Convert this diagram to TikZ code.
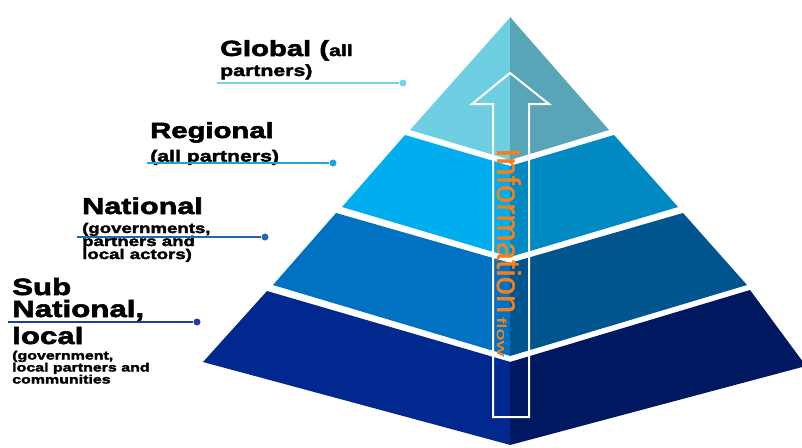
\documentclass[tikz,border=0pt]{standalone}
\usepackage{fontspec}
\setmainfont{Liberation Sans}
\newfontfamily\lblfont{Liberation Sans}[UprightFont={* Bold}, FakeStretch=1.33, FakeBold=2.5]
\newfontfamily\infofont{Liberation Sans}[FakeBold=1.2]
\newcommand\FSz[1]{\fontsize{#1}{#1}\selectfont}
\definecolor{gL}{RGB}{110,207,226}
\definecolor{gR}{RGB}{88,165,183}
\definecolor{rL}{RGB}{0,173,238}
\definecolor{rR}{RGB}{0,138,193}
\definecolor{nL}{RGB}{0,114,193}
\definecolor{nR}{RGB}{0,85,143}
\definecolor{sL}{RGB}{0,40,142}
\definecolor{sR}{RGB}{0,24,96}
\definecolor{flowc}{RGB}{243,128,31}
\definecolor{lnG}{RGB}{124,207,230}
\definecolor{lnR}{RGB}{31,162,221}
\definecolor{lnN}{RGB}{33,102,176}
\definecolor{lnS}{RGB}{32,62,149}
\begin{document}
\begin{tikzpicture}[x=1pt,y=-1pt,
  lbl/.style={anchor=base west, inner sep=0, text=black},
  dotm/.style={circle, fill=#1, inner sep=0, minimum size=7pt},
  leader/.style={draw=#1, line width=1.2pt}]
\path[use as bounding box] (0,0) rectangle (802,447);
\begin{scope}
\clip (0,0) rectangle (802,447);
% Global
\fill[gL] (510.5,17) -- (410,130) -- (510.5,160) -- cycle;
\fill[gR] (510,17) -- (609,130) -- (510,160) -- cycle;
% Regional
\fill[rL] (405,135) -- (510.5,166) -- (510.5,257) -- (342,207) -- cycle;
\fill[rR] (614,135) -- (510,166) -- (510,257) -- (678,207) -- cycle;
% National
\fill[nL] (336,213) -- (510.5,263) -- (510.5,356) -- (273,285) -- cycle;
\fill[nR] (683,213) -- (510,263) -- (510,356) -- (747,285) -- cycle;
% Sub national
\fill[sL] (267,291) -- (510.5,362) -- (510.5,445) -- (203,362) -- cycle;
\fill[sR] (750,290) -- (510,362) -- (510,445) -- (806,366) -- cycle;
\end{scope}
% arrow outline
\draw[white, line width=2pt, line join=miter] (510,73) -- (549,104) -- (529,104) -- (529,417) -- (493,417) -- (493,104) -- (472,104) -- cycle;
% Information flow
\node[rotate=-90, anchor=base west, inner sep=0, text=flowc, font=\infofont\FSz{33}] (info) at (497,148)
  {Information\hspace{4pt}\scalebox{1.7}[1]{\FSz{13}flow}};
% Labels
\node[lbl, font=\lblfont\FSz{22}] (glob1) at (220,56) {Global (\FSz{16}all};
\node[lbl, font=\lblfont\FSz{16}] (glob2) at (220,76) {partners)};
\node[lbl, font=\lblfont\FSz{22}] (reg1) at (150,138) {Regional};
\node[lbl, font=\lblfont\FSz{16}] (reg2) at (150,161.5) {(all partners)};
\node[lbl, font=\lblfont\FSz{23}] (nat1) at (82,214) {National};
\node[lbl, font=\lblfont\FSz{14}] (nat2) at (82,233) {(governments,};
\node[lbl, font=\lblfont\FSz{14}] (nat3) at (82,246) {partners and};
\node[lbl, font=\lblfont\FSz{14}] (nat4) at (82,259) {local actors)};
\node[lbl, font=\lblfont\FSz{23.5}] (sub1) at (12,295) {Sub};
\node[lbl, font=\lblfont\FSz{23.5}] (sub2) at (12,317) {National,};
\node[lbl, font=\lblfont\FSz{23.5}] (sub3) at (12,344) {local};
\node[lbl, font=\lblfont\FSz{12}] (sub4) at (12,359.5) {(government,};
\node[lbl, font=\lblfont\FSz{12}] (sub5) at (12,371.5) {local partners and};
\node[lbl, font=\lblfont\FSz{12}] (sub6) at (12,383.5) {communities};
% leaders
\coordinate (gA) at (217,83);
\node[dotm=lnG] (gB) at (403,83) {};
\draw[leader=lnG] (gA) -- (gB);
\coordinate (rA) at (147,163);
\node[dotm=lnR] (rB) at (333,163) {};
\draw[leader=lnR] (rA) -- (rB);
\coordinate (nA) at (77,237);
\node[dotm=lnN] (nB) at (265,237) {};
\draw[leader=lnN] (nA) -- (nB);
\coordinate (sA) at (8,322);
\node[dotm=lnS] (sB) at (197,322) {};
\draw[leader=lnS] (sA) -- (sB);
\end{tikzpicture}
\end{document}
